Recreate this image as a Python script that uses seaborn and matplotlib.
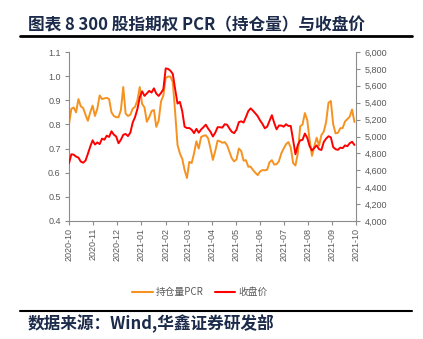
import matplotlib
matplotlib.use("Agg")
import matplotlib.pyplot as plt
from matplotlib.lines import Line2D
from matplotlib.ticker import MultipleLocator, FuncFormatter
import numpy as np
import pandas as pd
import seaborn as sns

# CSI 300 index option put/call ratio (open interest) and CSI 300 close,
# sampled every three calendar days from 2020-10-09
start_date = "2020-10-09"

pcr = [
    0.800, 0.865, 0.870, 0.850, 0.905, 0.875, 0.868, 0.840, 0.815, 0.850,
    0.878, 0.835, 0.865, 0.920, 0.905, 0.908, 0.910, 0.905, 0.850, 0.835,
    0.830, 0.830, 0.860, 0.955, 0.845, 0.835, 0.840, 0.865, 0.873, 0.900,
    0.955, 0.885, 0.870, 0.811, 0.830, 0.855, 0.860, 0.790, 0.815, 0.895,
    0.920, 0.993, 0.998, 0.998, 0.975, 0.850, 0.715, 0.680, 0.658, 0.611,
    0.578, 0.645, 0.640, 0.680, 0.730, 0.700, 0.748, 0.753, 0.755, 0.742,
    0.700, 0.653, 0.690, 0.733, 0.730, 0.724, 0.727, 0.714, 0.687, 0.660,
    0.647, 0.655, 0.700, 0.690, 0.650, 0.652, 0.625, 0.625, 0.611, 0.600,
    0.590, 0.605, 0.611, 0.610, 0.612, 0.643, 0.652, 0.634, 0.635, 0.648,
    0.680, 0.700, 0.718, 0.727, 0.705, 0.640, 0.630, 0.680, 0.792, 0.800,
    0.847, 0.818, 0.735, 0.670, 0.710, 0.745, 0.712, 0.756, 0.770, 0.810,
    0.890, 0.897, 0.800, 0.763, 0.765, 0.784, 0.785, 0.812, 0.822, 0.832,
    0.862, 0.810,
]

close = [
    4682, 4790, 4785, 4762, 4750, 4703, 4690, 4715, 4795, 4880,
    4955, 4905, 4930, 4910, 4975, 4962, 5010, 4995, 5062, 5022,
    5000, 4920, 4962, 5020, 5030, 5005, 5045, 5165, 5230, 5325,
    5465, 5535, 5480, 5510, 5540, 5520, 5570, 5508, 5480, 5515,
    5560, 5806, 5800, 5778, 5740, 5560, 5390, 5410, 5300, 5116,
    5100, 5100, 5080, 5040, 5090, 5045, 5083, 5110, 5140, 5093,
    5055, 5000, 5045, 5110, 5110, 5105, 5145, 5140, 5095, 5055,
    5040, 5080, 5170, 5180, 5165, 5230, 5300, 5333, 5305, 5274,
    5240, 5190, 5150, 5097, 5116, 5185, 5252, 5160, 5085, 5130,
    5130, 5116, 5145, 5125, 5125, 4960, 4790, 4900, 4955, 4960,
    5035, 4985, 4885, 4835, 4865, 4895, 4850, 4840, 4935, 4975,
    5003, 4990, 4875, 4850, 4842, 4868, 4862, 4895, 4885, 4920,
    4938, 4900,
]

month_ticks = ["2020-10", "2020-11", "2020-12", "2021-01", "2021-02", "2021-03",
               "2021-04", "2021-05", "2021-06", "2021-07", "2021-08", "2021-09",
               "2021-10"]

series_names = ["持仓量PCR", "收盘价"]
title = "图表 8 300 股指期权 PCR（持仓量）与收盘价"
source = "数据来源：Wind,华鑫证券研发部"

ORANGE = "#F59220"
RED = "#FF0000"
SPINE = "#8c8c8c"
GRAY = "#595959"
NAVY = "#1c2b4a"

sns.set_style("white")
plt.rcParams["font.family"] = ["Liberation Sans", "Noto Sans CJK SC", "DejaVu Sans"]
CJK = ["Noto Sans CJK SC", "DejaVu Sans"]

df = pd.DataFrame({
    "date": pd.date_range(start_date, periods=len(pcr), freq="3D"),
    "pcr": pcr,
    "close": close,
})

W, H = 423, 339
fig = plt.figure(figsize=(W / 100, H / 100), dpi=100)
fig.patch.set_facecolor("white")
ax = fig.add_axes([69 / W, 1 - 221 / H, (356 - 69) / W, (221 - 52) / H])

sns.lineplot(data=df, x="date", y="pcr", ax=ax, color=ORANGE, lw=1.4, legend=False)
ax2 = ax.twinx()
sns.lineplot(data=df, x="date", y="close", ax=ax2, color=RED, lw=1.4, legend=False)

for a in (ax, ax2):
    a.set_xlabel("")
    a.set_ylabel("")

# x axis: one tick per month, on the 9th
tick_dates = [pd.Timestamp(m + "-09") for m in month_ticks]
ax.set_xlim(tick_dates[0], tick_dates[-1])
ax.set_xticks(tick_dates)
ax.set_xticklabels(month_ticks, rotation=90, fontsize=6.5, color=GRAY)

ax.set_ylim(0.4, 1.1)
ax.yaxis.set_major_locator(MultipleLocator(0.1))
ax.yaxis.set_major_formatter(FuncFormatter(lambda v, p: f"{v:.1f}"))
ax2.set_ylim(4000, 6000)
ax2.yaxis.set_major_locator(MultipleLocator(200))
ax2.yaxis.set_major_formatter(FuncFormatter(lambda v, p: f"{v:,.0f}"))

ax.tick_params(axis="x", bottom=True, direction="out", length=3, width=0.8,
               color=SPINE, pad=2)
ax.tick_params(axis="y", left=True, direction="out", length=3, width=0.8,
               color=SPINE, labelsize=6.5, labelcolor=GRAY, pad=3)
ax2.tick_params(axis="y", right=True, direction="out", length=3, width=0.8,
                color=SPINE, labelsize=6.5, labelcolor=GRAY, pad=3)

for s in ("top", "right"):
    ax.spines[s].set_visible(False)
for s in ("top", "left", "bottom"):
    ax2.spines[s].set_visible(False)
for s in ("left", "bottom"):
    ax.spines[s].set_color(SPINE)
    ax.spines[s].set_linewidth(0.8)
ax2.spines["right"].set_color(SPINE)
ax2.spines["right"].set_linewidth(0.8)

handles = [Line2D([], [], color=ORANGE, lw=1.5), Line2D([], [], color=RED, lw=1.5)]
fig.legend(handles, series_names, loc="center", bbox_to_anchor=(200 / W, 1 - 292 / H),
           ncol=2, frameon=False, prop={"family": CJK, "size": 7}, labelcolor=GRAY,
           handlelength=2.1, handletextpad=0.35, columnspacing=1.1)

# title with rule beneath, source note with rule above
fig.text(28 / W, 1 - 25.5 / H, title, ha="left", va="center", fontsize=12,
         fontweight="bold", color=NAVY, family=CJK)
fig.add_artist(Line2D([20 / W, 412 / W], [1 - 36 / H] * 2, color="black", lw=2.0))
fig.add_artist(Line2D([20 / W, 412 / W], [1 - 311 / H] * 2, color="black", lw=1.5))
fig.text(28 / W, 1 - 323.5 / H, source, ha="left", va="center", fontsize=12,
         fontweight="bold", color=NAVY, family=CJK)

fig.savefig("out.png", dpi=100)
